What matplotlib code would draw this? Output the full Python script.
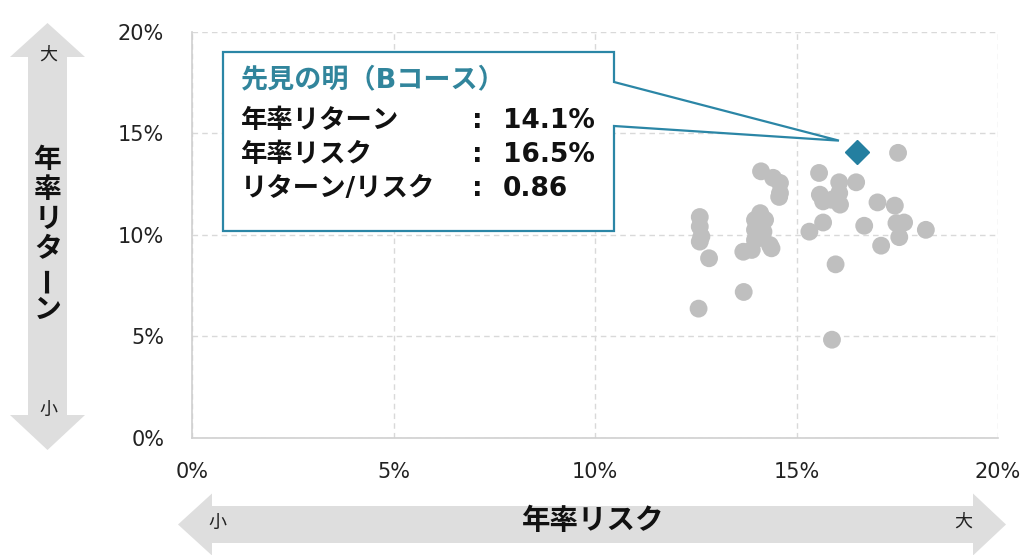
import matplotlib
matplotlib.use("Agg")
import matplotlib.pyplot as plt
from matplotlib.patches import Polygon
from matplotlib.ticker import FuncFormatter

# ---------------- data ----------------
risk_others = [17.52, 14.12, 14.42, 14.59, 14.59, 14.57, 15.56, 16.06, 16.48, 15.58,
               16.06, 15.66, 15.87, 16.08, 17.01, 17.44, 12.60, 12.60, 12.64, 12.60,
               12.83, 14.10, 14.22, 13.97, 13.97, 14.18, 13.97, 14.34, 14.38, 13.68,
               13.89, 15.66, 15.32, 16.68, 17.48, 17.67, 17.55, 18.21, 17.10, 15.97,
               13.69, 12.57, 15.88]
return_others = [14.04, 13.13, 12.81, 12.56, 12.06, 11.87, 13.05, 12.59, 12.59, 11.98,
                 12.06, 11.65, 11.73, 11.49, 11.60, 11.44, 10.88, 10.41, 9.92, 9.67,
                 8.85, 11.07, 10.74, 10.74, 10.25, 10.16, 9.75, 9.50, 9.34, 9.17,
                 9.26, 10.61, 10.16, 10.45, 10.58, 10.61, 9.89, 10.25, 9.47, 8.55,
                 7.19, 6.37, 4.84]
fund_name = "先見の明（Bコース）"
fund_risk = 16.5
fund_return = 14.1
fund_ratio = 0.86
tick_values = [0, 5, 10, 15, 20]

W, H = 1027, 555
fig = plt.figure(figsize=(W / 100, H / 100), dpi=100)
fig.patch.set_facecolor("white")

ax = fig.add_axes([192 / W, 1 - 438 / H, (998 - 192) / W, (438 - 31.8) / H])
ax.set_xlim(tick_values[0], tick_values[-1])
ax.set_ylim(tick_values[0], tick_values[-1])
ax.set_xticks(tick_values)
ax.set_yticks(tick_values)
fmt = FuncFormatter(lambda v, p: f"{v:.0f}%")
ax.xaxis.set_major_formatter(fmt)
ax.yaxis.set_major_formatter(fmt)
ax.grid(True, color="#D9D9D9", linestyle=(0, (4, 3)), linewidth=1.0)
ax.set_axisbelow(True)
for s in ["top", "right"]:
    ax.spines[s].set_visible(False)
for s in ["left", "bottom"]:
    ax.spines[s].set_color("#D0D0D0")
    ax.spines[s].set_linewidth(1.2)
ax.tick_params(axis="both", length=0, labelsize=15, labelcolor="#222222")
ax.tick_params(axis="y", pad=20)
ax.tick_params(axis="x", pad=17)

ax.scatter(risk_others, return_others, s=165, color="#BFBFBF", edgecolors="none", zorder=3)
ax.plot([fund_risk], [fund_return], marker="D", markersize=12.5, color="#247FA0",
        linestyle="none", zorder=4)

# ---------------- overlay (pixel coordinates) ----------------
ov = fig.add_axes([0, 0, 1, 1], facecolor="none")
ov.set_xlim(0, W)
ov.set_ylim(H, 0)
ov.axis("off")

arrow_col = "#DEDEDE"
# vertical arrow
cx = 47.5
vert = [(cx, 23), (cx + 37.5, 57), (cx + 19.5, 57), (cx + 19.5, 415), (cx + 37.5, 415),
        (cx, 450), (cx - 37.5, 415), (cx - 19.5, 415), (cx - 19.5, 57), (cx - 37.5, 57)]
ov.add_patch(Polygon(vert, closed=True, facecolor=arrow_col, edgecolor="none"))
# horizontal arrow
cy = 524.5
horiz = [(178, cy), (212, cy - 31), (212, cy - 18.5), (973, cy - 18.5), (973, cy - 31),
         (1006, cy), (973, cy + 31), (973, cy + 18.5), (212, cy + 18.5), (212, cy + 31)]
ov.add_patch(Polygon(horiz, closed=True, facecolor=arrow_col, edgecolor="none"))

jp = ["Noto Sans CJK JP"]
mix = ["DejaVu Sans", "Noto Sans CJK JP"]

ov.text(48, 55, "大", family=jp, fontsize=13, ha="center", va="center", color="#222222")
ov.text(48, 410, "小", family=jp, fontsize=13, ha="center", va="center", color="#222222")
ov.text(217, 523, "小", family=jp, fontsize=13, ha="center", va="center", color="#222222")
ov.text(963, 522, "大", family=jp, fontsize=13, ha="center", va="center", color="#222222")
ov.text(593, 521, "年率リスク", family=jp, fontsize=20.5, fontweight="bold",
        ha="center", va="center", color="#111111")

vchars = ["年", "率", "リ", "タ", "ー", "ン"]
vys = [160, 190, 219, 249, 279, 310]
for ch, yy in zip(vchars, vys):
    rot = 90 if ch == "ー" else 0
    ov.text(48, yy, ch, family=jp, fontsize=20, fontweight="bold", rotation=rot,
            ha="center", va="center", color="#111111")

# ---------------- callout ----------------
tip_disp = ax.transData.transform((fund_risk, fund_return))
tip = (tip_disp[0] - 18, H - tip_disp[1] - 11)
box = [(223, 52), (614, 52), (614, 82), tip, (614, 126), (614, 231), (223, 231)]
ov.add_patch(Polygon(box, closed=True, facecolor="white", edgecolor="#2B86A6",
                     linewidth=1.6, joinstyle="miter"))

fs = 19
ov.text(241, 80, fund_name, family=mix, fontsize=fs + 0.5, fontweight="bold",
        ha="left", va="center", color="#31859C")
rows = [("年率リターン", f"{fund_return:.1f}%", 121),
        ("年率リスク", f"{fund_risk:.1f}%", 155),
        ("リターン/リスク", f"{fund_ratio:.2f}", 189)]
for lab, val, yy in rows:
    ov.text(241, yy, lab, family=mix, fontsize=fs, fontweight="bold",
            ha="left", va="center", color="#111111")
    ov.text(477, yy, ":", family=mix, fontsize=fs, fontweight="bold",
            ha="center", va="center", color="#111111")
    ov.text(503, yy, val, family=mix, fontsize=fs, fontweight="bold",
            ha="left", va="center", color="#111111")

fig.savefig("out.png", dpi=100)
